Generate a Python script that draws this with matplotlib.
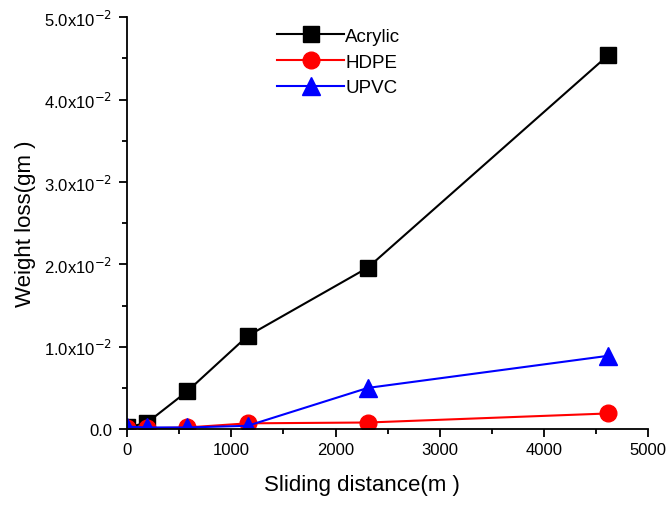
import matplotlib
matplotlib.use("Agg")
import matplotlib.pyplot as plt
from matplotlib.ticker import MultipleLocator, FixedLocator

plt.rcParams['font.family'] = ['Liberation Sans', 'DejaVu Sans']

distance = [0, 192, 577, 1155, 2310, 4620]
acrylic = [0.0002, 0.0008, 0.0046, 0.0113, 0.0196, 0.0454]
hdpe = [0.0001, 0.0001, 0.0002, 0.0007, 0.0008, 0.0019]
upvc = [0.0003, 0.0002, 0.0002, 0.0004, 0.0050, 0.0089]

yticks = [0.0, 0.01, 0.02, 0.03, 0.04, 0.05]
ylabels = ["0.0", "1.0x10$^{-2}$", "2.0x10$^{-2}$", "3.0x10$^{-2}$", "4.0x10$^{-2}$", "5.0x10$^{-2}$"]

fig = plt.figure(figsize=(6.7, 5.06), dpi=100)
ax = fig.add_axes([0.19, 0.150, 0.777, 0.814])

ax.plot(distance, acrylic, "-s", color="black", lw=1.5, ms=11, label="Acrylic")
ax.plot(distance, hdpe, "-o", color="red", lw=1.5, ms=12, label="HDPE")
ax.plot(distance, upvc, "-^", color="blue", lw=1.5, ms=13, label="UPVC")

ax.set_xlim(0, 5000)
ax.set_ylim(0, 0.05)
ax.xaxis.set_major_locator(MultipleLocator(1000))
ax.xaxis.set_minor_locator(MultipleLocator(500))
ax.yaxis.set_major_locator(FixedLocator(yticks))
ax.yaxis.set_minor_locator(MultipleLocator(0.005))
ax.set_yticklabels(ylabels)

for s in ["top", "right"]:
    ax.spines[s].set_visible(False)
for s in ["left", "bottom"]:
    ax.spines[s].set_linewidth(1.3)
ax.tick_params(which="major", direction="out", length=6, width=1.3, labelsize=12)
ax.tick_params(axis="y", which="major", pad=5)
ax.tick_params(which="minor", direction="out", length=3.5, width=1.3)

ax.set_xlabel("Sliding distance(m )", fontsize=16)
ax.xaxis.set_label_coords(0.451, -0.11)
ax.set_ylabel("Weight loss(gm )", fontsize=16, labelpad=6)

ax.legend(loc="upper left", bbox_to_anchor=(0.255, 1.015), frameon=False,
          fontsize=13.5, handlelength=3.6, handletextpad=0.05, labelspacing=0.45)

fig.savefig("out.png", dpi=100)
